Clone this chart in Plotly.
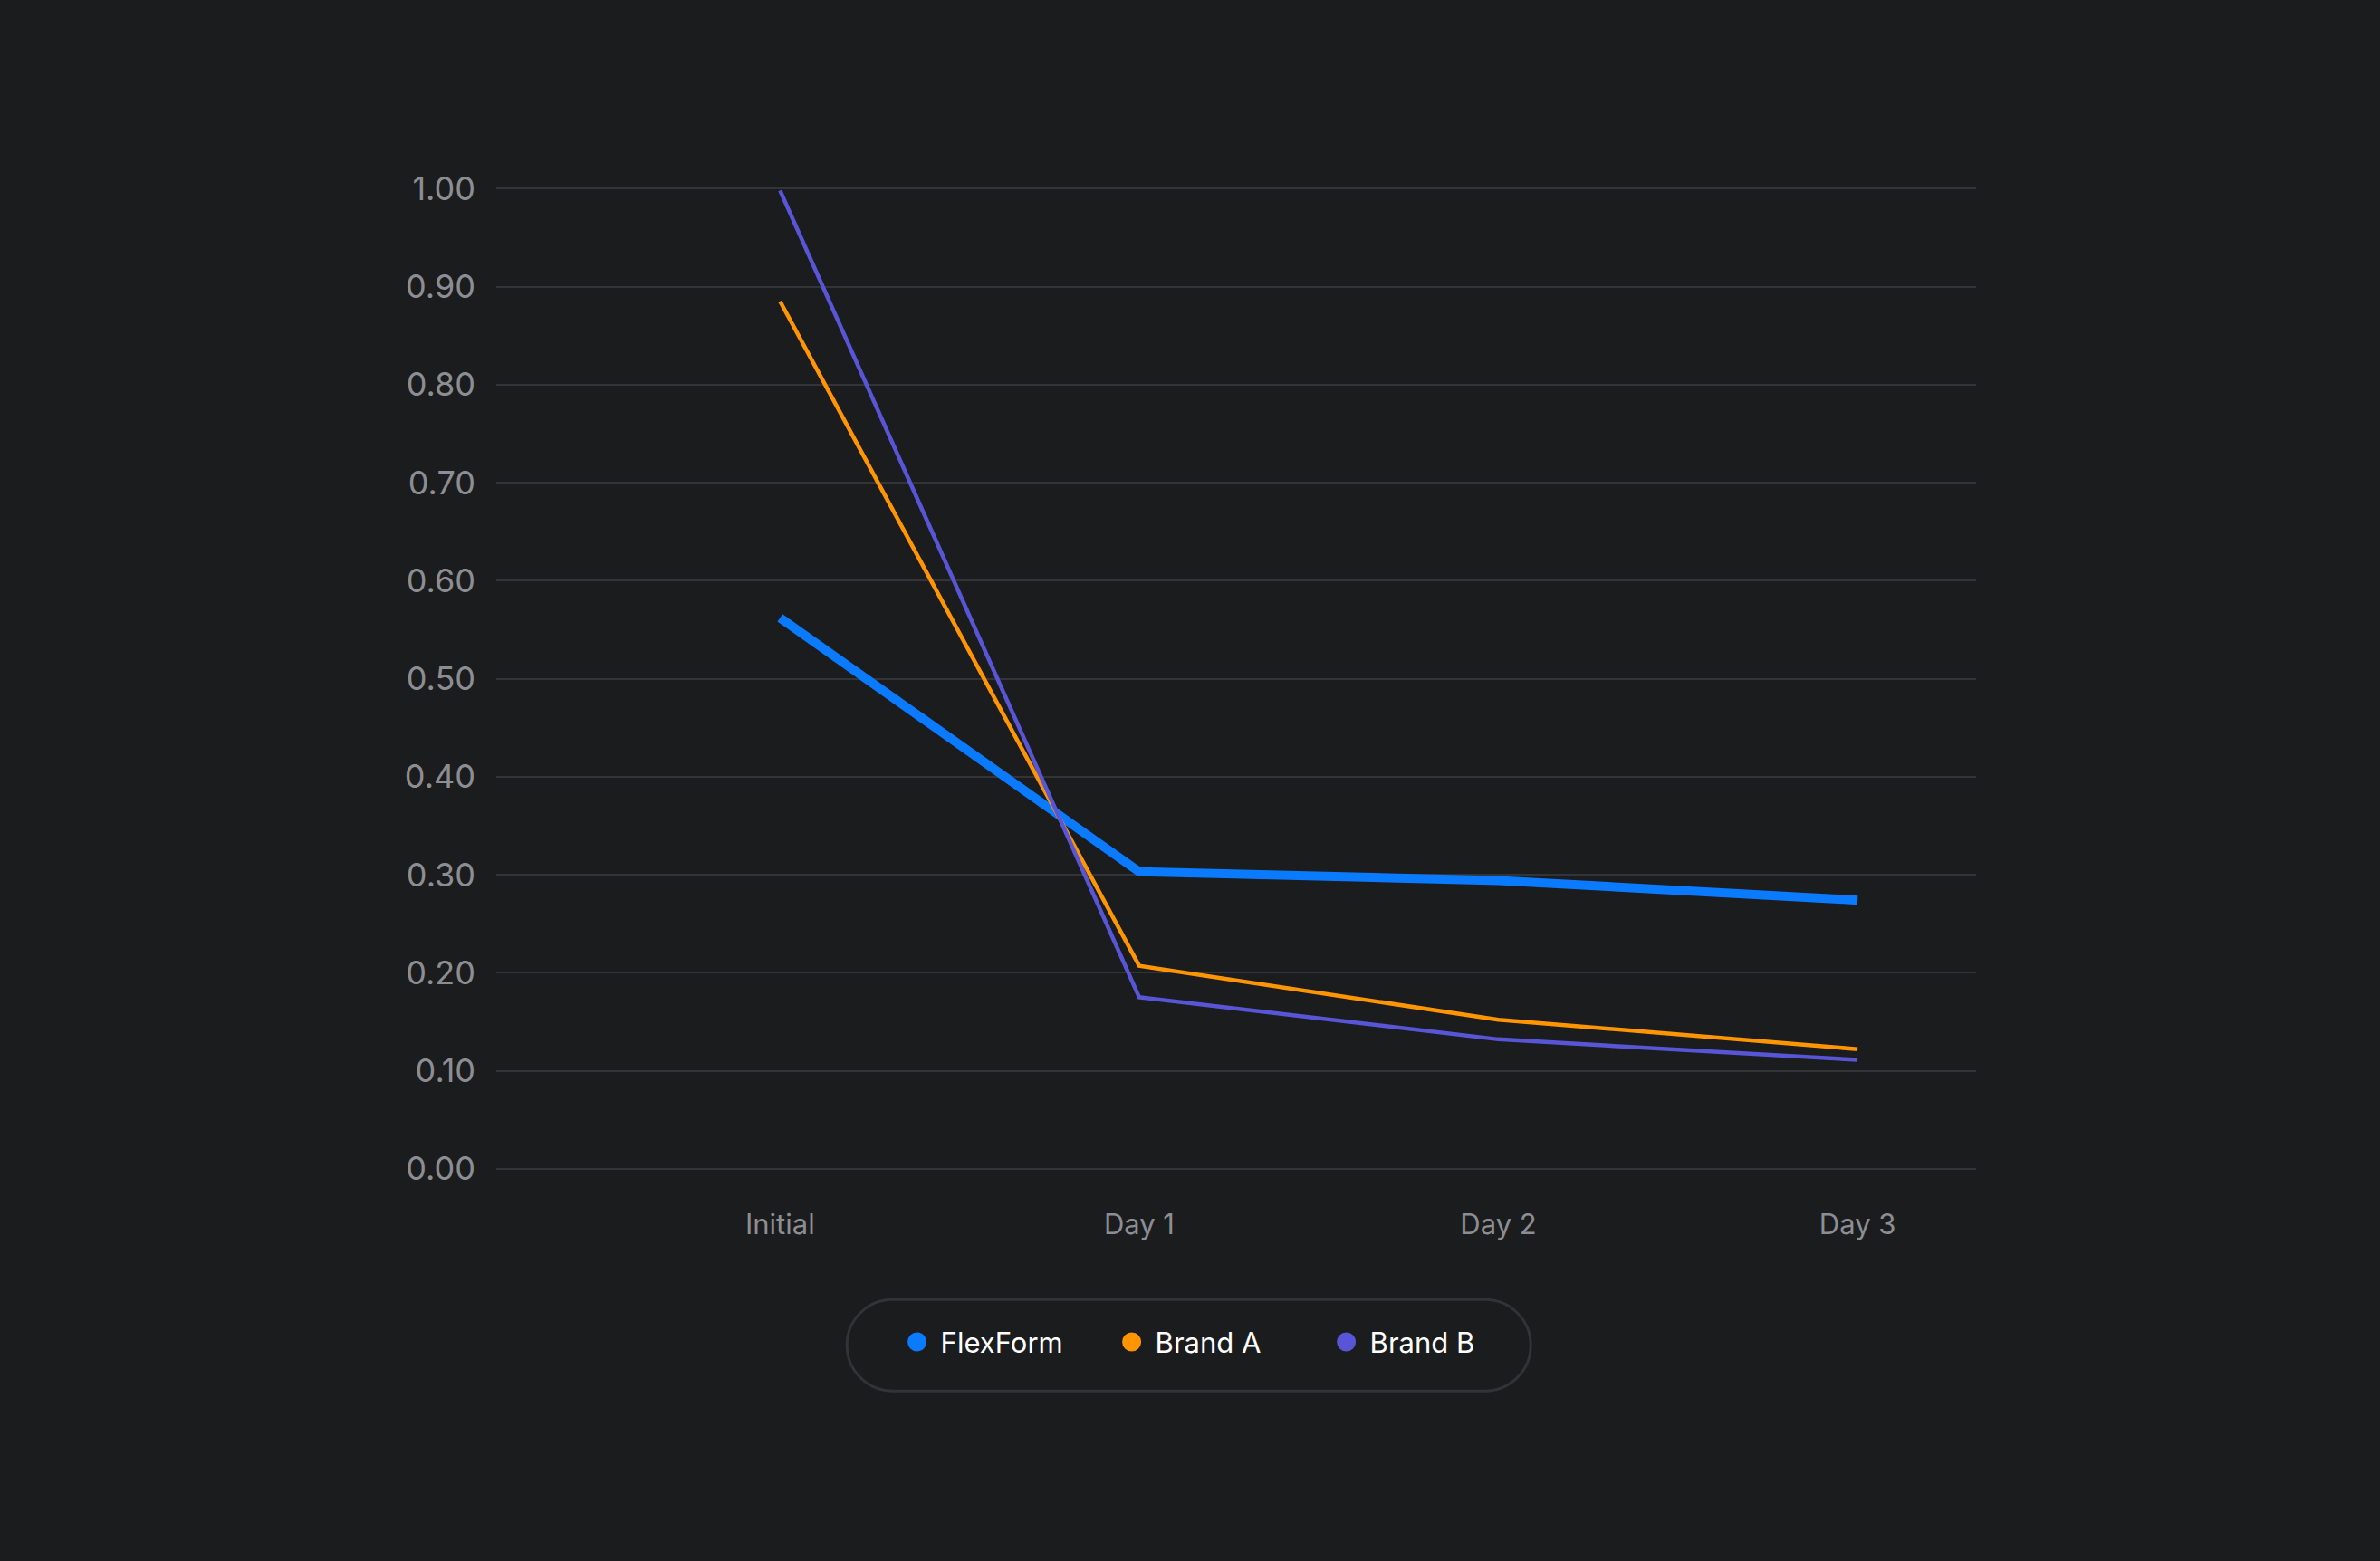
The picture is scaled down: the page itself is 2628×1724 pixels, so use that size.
import plotly.graph_objects as go

categories = ["Initial", "Day 1", "Day 2", "Day 3"]
flexform = [0.562, 0.303, 0.294, 0.274]
brand_a = [0.885, 0.207, 0.152, 0.122]
brand_b = [0.998, 0.175, 0.132, 0.111]
y_ticks = [0.0, 0.1, 0.2, 0.3, 0.4, 0.5, 0.6, 0.7, 0.8, 0.9, 1.0]

series = [
    ("FlexForm", flexform, "#0A7AFF", 10),
    ("Brand A", brand_a, "#FF9500", 4.5),
    ("Brand B", brand_b, "#5856D6", 4.5),
]

BG = "#1B1C1E"
GRID = "#333437"
TICK = "#8D8E93"
FONT = "Inter, Roboto, sans-serif"

fig = go.Figure()
xs = list(range(len(categories)))
for name, vals, color, width in series:
    fig.add_trace(go.Scatter(
        x=xs, y=vals, mode="lines", name=name,
        line=dict(color=color, width=width),
        showlegend=False, cliponaxis=False, hoverinfo="skip",
    ))
for name, vals, color, width in series:
    fig.add_trace(go.Scatter(
        x=[None], y=[None], mode="markers", name=name,
        marker=dict(color=color, size=16, symbol="circle",
                    line=dict(color=color, width=5)),
        showlegend=True,
    ))

# pill-shaped legend frame
hw, hh = 327.0, 50.5
k = 0.5523 * hh
pill = (
    f"M {-hw},{-hh} L {hw},{-hh} "
    f"C {hw + k},{-hh} {hw + hh},{-k} {hw + hh},0 "
    f"C {hw + hh},{k} {hw + k},{hh} {hw},{hh} "
    f"L {-hw},{hh} "
    f"C {-hw - k},{hh} {-hw - hh},{k} {-hw - hh},0 "
    f"C {-hw - hh},{-k} {-hw - k},{-hh} {-hw},{-hh} Z"
)
fig.add_shape(
    type="path", path=pill, xref="paper", yref="paper",
    xsizemode="pixel", ysizemode="pixel", xanchor=0.468, yanchor=-0.176,
    line=dict(color="#323336", width=3), fillcolor="rgba(0,0,0,0)", layer="below",
)

fig.update_layout(
    width=2628, height=1724,
    paper_bgcolor=BG, plot_bgcolor=BG,
    margin=dict(l=548, r=446, t=205, b=430),
    font=dict(family=FONT, color=TICK, size=34),
    showlegend=True,
    legend=dict(
        orientation="h", x=0.486, xanchor="center", y=-0.173, yanchor="middle",
        font=dict(family=FONT, size=31, color="#FFFFFF"),
        bgcolor="rgba(0,0,0,0)", borderwidth=0,
        entrywidth=180, entrywidthmode="pixels", itemwidth=42,
    ),
    xaxis=dict(
        range=[-0.79, 3.33], tickmode="array", tickvals=xs, ticktext=categories,
        showgrid=False, zeroline=False, showline=False, ticks="",
        tickfont=dict(family=FONT, size=31, color=TICK), ticklabelstandoff=37,
        fixedrange=True,
    ),
    yaxis=dict(
        range=[-0.003, 1.003], tickmode="array", tickvals=y_ticks,
        ticktext=[f"{v:.2f}" for v in y_ticks],
        showgrid=True, gridcolor=GRID, gridwidth=2, zeroline=False, showline=False,
        ticks="", tickfont=dict(family=FONT, size=36, color=TICK), ticklabelstandoff=22,
        fixedrange=True,
    ),
)

fig.write_html(
    "out.html",
    config={"displayModeBar": False},
    post_script="document.body.style.margin='0';document.body.style.background='#1B1C1E';",
)
